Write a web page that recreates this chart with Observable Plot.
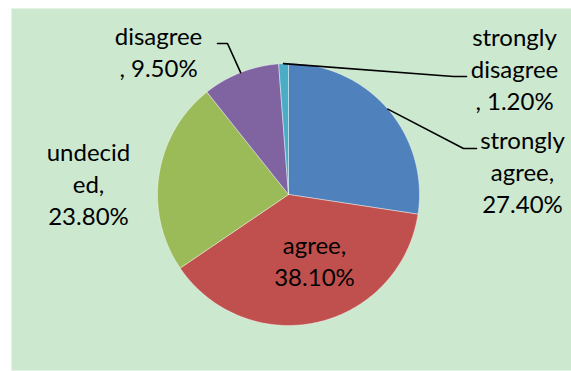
<!DOCTYPE html>
<html>
<head>
<meta charset="utf-8">
<script src="https://cdn.jsdelivr.net/npm/d3@7"></script>
<script src="https://cdn.jsdelivr.net/npm/@observablehq/plot@0.6"></script>
<style>
  html, body { margin: 0; padding: 0; background: #ffffff; }
  #chart svg { display: block; }
</style>
</head>
<body>
<div id="chart"></div>
<script>
// ---- data ----
const categories = ["strongly agree", "agree", "undecided", "disagree", "strongly disagree"];
const values = [27.4, 38.1, 23.8, 9.5, 1.2];
const labelLines = [
  ["strongly", "agree,", "27.40%"],
  ["agree,", "38.10%"],
  ["undecid", "ed,", "23.80%"],
  ["disagree", ", 9.50%"],
  ["strongly", "disagree", ", 1.20%"]
];
const colors = ["#4F81BD", "#C0504D", "#9BBB59", "#8064A2", "#4BACC6"];

// ---- layout ----
const W = 571, H = 371;
const cx = 288, cy = 194, R = 131;
const fontSize = 24, lineGap = 32;
// label block: center x, first baseline y
const labelPos = [
  {x: 522, y: 148},
  {x: 314, y: 253},
  {x: 88, y: 160},
  {x: 158, y: 44},
  {x: 514, y: 45}
];
// leader lines: elbow then end (null = no leader)
const leaders = [
  [{x: 463, y: 148}, {x: 476, y: 148}],
  null,
  null,
  [{x: 227, y: 43}, {x: 217, y: 43}],
  [{x: 453, y: 76}, {x: 466, y: 76}]
];

const total = d3.sum(values);
const pt = (a, r = R) => ({x: cx + r * Math.sin(a), y: cy - r * Math.cos(a)});

// slices as polygons
const slicePts = [];
let acc = 0;
const mids = [];
values.forEach((v, i) => {
  const a0 = acc / total * 2 * Math.PI;
  acc += v;
  const a1 = acc / total * 2 * Math.PI;
  mids.push((a0 + a1) / 2);
  const n = Math.max(2, Math.ceil((a1 - a0) / (Math.PI / 360)));
  slicePts.push({key: categories[i], x: cx, y: cy});
  for (let k = 0; k <= n; k++) {
    const p = pt(a0 + (a1 - a0) * k / n);
    slicePts.push({key: categories[i], x: p.x, y: p.y});
  }
  slicePts.push({key: categories[i], x: cx, y: cy});
});

// leader lines
const leaderPts = [];
leaders.forEach((l, i) => {
  if (!l) return;
  const p = pt(mids[i]);
  leaderPts.push({key: categories[i], x: p.x, y: p.y});
  l.forEach(q => leaderPts.push({key: categories[i], x: q.x, y: q.y}));
});

// labels
const labelRows = [];
labelLines.forEach((lines, i) => {
  lines.forEach((t, j) => {
    labelRows.push({text: t, x: labelPos[i].x, y: labelPos[i].y + j * lineGap - 0.32 * fontSize});
  });
});

const chart = Plot.plot({
  width: W,
  height: H,
  marginLeft: 11,
  marginTop: 8,
  marginRight: 0,
  marginBottom: 1,
  x: {domain: [11, W], axis: null},
  y: {domain: [8, H - 1], reverse: true, axis: null},
  color: {domain: categories, range: colors},
  style: {fontFamily: "Lato, sans-serif", background: "#ffffff"},
  marks: [
    Plot.frame({fill: "#CCE8CF", stroke: "none"}),
    Plot.line(slicePts, {x: "x", y: "y", z: "key", fill: "key", stroke: "#ffffff", strokeWidth: 0.6, strokeOpacity: 0.7, curve: "linear"}),
    Plot.line(leaderPts, {x: "x", y: "y", z: "key", stroke: "#000000", strokeWidth: 1.6, curve: "linear"}),
    Plot.text(labelRows, {x: "x", y: "y", text: "text", fontSize: fontSize, fill: "#000000", textAnchor: "middle", lineAnchor: "middle"})
  ]
});
document.getElementById("chart").appendChild(chart);
</script>
</body>
</html>
